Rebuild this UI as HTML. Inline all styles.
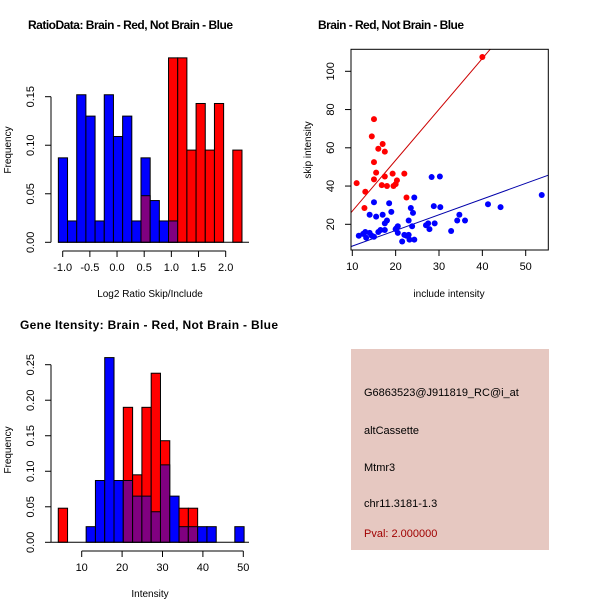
<!DOCTYPE html>
<html><head><meta charset="utf-8"><style>
body{margin:0;background:#fff;}
svg{display:block;font-family:"Liberation Sans",sans-serif;}
</style></head><body>
<svg id="c" width="600" height="600" xmlns="http://www.w3.org/2000/svg">
<text x="28" y="29" font-size="12" font-weight="bold" textLength="205">RatioData: Brain - Red, Not Brain - Blue</text>
<text x="318" y="29" font-size="12" font-weight="bold" textLength="146">Brain - Red, Not Brain - Blue</text>
<text x="20" y="329" font-size="12" font-weight="bold" textLength="258">Gene Itensity: Brain - Red, Not Brain - Blue</text>
<rect x="351" y="349" width="198" height="201" fill="#e6c8c1"/>
<g font-size="11" fill="#000">
<text x="364" y="396">G6863523@J911819_RC@i_at</text>
<text x="364" y="434">altCassette</text>
<text x="364" y="471">Mtmr3</text>
<text x="364" y="507">chr11.3181-1.3</text>
<text x="364" y="537" fill="#a00000">Pval: 2.000000</text>
</g>
</svg>
<script>
// Ratio histogram data
const ratioStart = -1.08, ratioBin = 0.169;
const ratioBlue = [0.087,0.022,0.152,0.13,0.022,0.152,0.109,0.13,0.022,0.087,0.043,0.022,0.022,0,0,0,0,0,0,0];
const ratioRed  = [0,0,0,0,0,0,0,0,0,0.048,0,0,0.19,0.19,0.095,0.143,0.095,0.143,0,0.095];
const ratioXTicks = [-1.0,-0.5,0.0,0.5,1.0,1.5,2.0];
const ratioYTicks = [0,0.05,0.10,0.15];
// Intensity histogram data
const intStart = 4.2, intBin = 2.3;
const intBlue = [0,0,0,0.022,0.087,0.26,0.087,0.087,0.065,0.065,0.043,0.109,0.065,0.022,0.022,0.022,0.022,0,0,0.022];
const intRed  = [0.048,0,0,0,0,0,0,0.19,0.095,0.19,0.238,0.143,0,0.048,0.048,0,0,0,0,0];
const intXTicks = [10,20,30,40,50];
const intYTicks = [0,0.05,0.10,0.15,0.20,0.25];
// Scatter data
const redX = [11,13,12.8,15,14.5,17,16,17.5,15,15.5,15,17.5,16.8,18,19.3,19.5,20,20.3,22,22.5,40];
const redY = [41.5,37,28.5,75,66,62,59.5,58,52.5,47,43.5,45,40.5,40,46.5,40,41,43,46.5,34,107.5];
const blueX = [11.5,12.5,13,13.2,14,14.5,15,14,15,15.5,16,16.5,17,17.5,17.5,18,18.5,19,20,20.2,20.5,20.5,21.5,22,22.5,23,23,23.2,23.5,23.8,24,24.3,24.3,27,27.5,27.8,28.3,28.8,29,30.2,30.3,32.8,34.2,34.7,36,41.3,44.2,53.7];
const blueY = [14,15,16,13,15.5,14,13.5,25,31.5,24,16,17,25,20.5,17,22,31,26.5,17.5,18,19,15.5,11,14.5,14,22,14.5,12,28.5,19,26,34,12,19.5,20.5,17.5,44.7,29.5,20.5,45,29,16.5,22,25,22,30.5,29,35.3];
const redFit = [0.3, 2.66];   // intercept, slope
const blueFit = [0.4, 0.82];
const scXTicks = [10,20,30,40,50];
const scYTicks = [20,40,60,80,100];

const svg = document.getElementById('c');
const NS = 'http://www.w3.org/2000/svg';
function mk(tag, attrs, parent){const e=document.createElementNS(NS,tag);for(const k in attrs)e.setAttribute(k,attrs[k]);(parent||svg).appendChild(e);return e;}

function hist(g, start, bin, blue, red, sx, sy, prefix){
  for(let i=0;i<blue.length;i++){
    const x0=sx(start+i*bin), x1=sx(start+(i+1)*bin);
    const b=blue[i], r=red[i];
    const hi=Math.max(b,r), lo=Math.min(b,r);
    if(hi>0){
      const e=mk('rect',{x:x0,y:sy(hi),width:x1-x0,height:sy(0)-sy(hi),fill:b>r?'#0000ff':'#ff0000',stroke:'#000','stroke-width':1},g);
      
      
    }
    if(lo>0){
      const e=mk('rect',{x:x0,y:sy(lo),width:x1-x0,height:sy(0)-sy(lo),fill:'#800080',stroke:'#000','stroke-width':1},g);
      
      
    }
  }
}
function axes(g, xt, yt, sx, sy, xAxisY, yAxisX, xfmt, yfmt){
  mk('line',{x1:sx(xt[0]),x2:sx(xt[xt.length-1]),y1:xAxisY,y2:xAxisY,stroke:'#000'},g);
  xt.forEach(t=>{mk('line',{x1:sx(t),x2:sx(t),y1:xAxisY,y2:xAxisY+6,stroke:'#000'},g);
    const tx=mk('text',{x:sx(t),y:xAxisY+20,'text-anchor':'middle','font-size':11},g);tx.textContent=xfmt(t);});
  mk('line',{x1:yAxisX,x2:yAxisX,y1:sy(yt[0]),y2:sy(yt[yt.length-1]),stroke:'#000'},g);
  yt.forEach(t=>{mk('line',{x1:yAxisX-6,x2:yAxisX,y1:sy(t),y2:sy(t),stroke:'#000'},g);
    const ty=mk('text',{x:yAxisX-17,y:sy(t),'text-anchor':'middle','font-size':11,transform:`rotate(-90 ${yAxisX-17} ${sy(t)})`},g);ty.textContent=yfmt(t);});
}
function label(txt,x,y,rot,name){
  const t=mk('text',{x:x,y:y,'text-anchor':'middle','font-size':10});
  if(rot)t.setAttribute('transform',`rotate(-90 ${x} ${y})`);
  t.textContent=txt;
  
  
}

// Ratio histogram
{
  const g=mk('g',{});
  
  
  const sx=v=>62.7+(v+1)*54.33, sy=v=>242.3-v*970.7;
  hist(g,ratioStart,ratioBin,ratioBlue,ratioRed,sx,sy,'ratio');
  mk('line',{x1:58,x2:249,y1:242.3,y2:242.3,stroke:'#000'},g);
  axes(g,ratioXTicks,ratioYTicks,sx,sy,251,51,t=>t.toFixed(1),t=>t.toFixed(2));
  label('Log2 Ratio Skip/Include',150,297,false,'ratio-x-title');
  label('Frequency',11,150,true,'ratio-y-title');
}
// Intensity histogram
{
  const g=mk('g',{});
  
  
  const sx=v=>81.7+(v-10)*4.04, sy=v=>542.3-v*710.4;
  hist(g,intStart,intBin,intBlue,intRed,sx,sy,'intensity');
  mk('line',{x1:51,x2:249,y1:542.3,y2:542.3,stroke:'#000'},g);
  axes(g,intXTicks,intYTicks,sx,sy,551,51,t=>String(t),t=>t.toFixed(2));
  label('Intensity',150,597,false,'intensity-x-title');
  label('Frequency',11,450,true,'intensity-y-title');
}
// Scatter
{
  const g=mk('g',{});
  
  
  const sx=v=>352.3+(v-10)*4.335, sy=v=>224.3-(v-20)*1.9125;
  const X0=351,X1=548.3,Y0=49.3,Y1=250;
  const cp=mk('clipPath',{id:'clipS'},g);mk('rect',{x:X0,y:Y0,width:X1-X0,height:Y1-Y0},cp);
  const lg=mk('g',{'clip-path':'url(#clipS)'},g);
  [[redFit,'#cc0000','red-fit-line'],[blueFit,'#0000aa','blue-fit-line']].forEach(([f,c,n])=>{
    const xa=8,xb=60;
    const l=mk('line',{x1:sx(xa),y1:sy(f[0]+f[1]*xa),x2:sx(xb),y2:sy(f[0]+f[1]*xb),stroke:c,'stroke-width':1},lg);
    
    
  });
  blueX.forEach((x,i)=>{const p=mk('circle',{cx:sx(x),cy:sy(blueY[i]),r:3,fill:'#0000ff'},g);
    
    });
  redX.forEach((x,i)=>{const p=mk('circle',{cx:sx(x),cy:sy(redY[i]),r:3,fill:'#ff0000'},g);
    
    });
  mk('rect',{x:X0,y:Y0,width:X1-X0,height:Y1-Y0,fill:'none',stroke:'#000'},g);
  axes(g,scXTicks,scYTicks,sx,sy,Y1,X0,t=>String(t),t=>String(t));
  label('include intensity',449,297,false,'scatter-x-title');
  label('skip intensity',311,150,true,'scatter-y-title');
}
</script>
</body></html>
